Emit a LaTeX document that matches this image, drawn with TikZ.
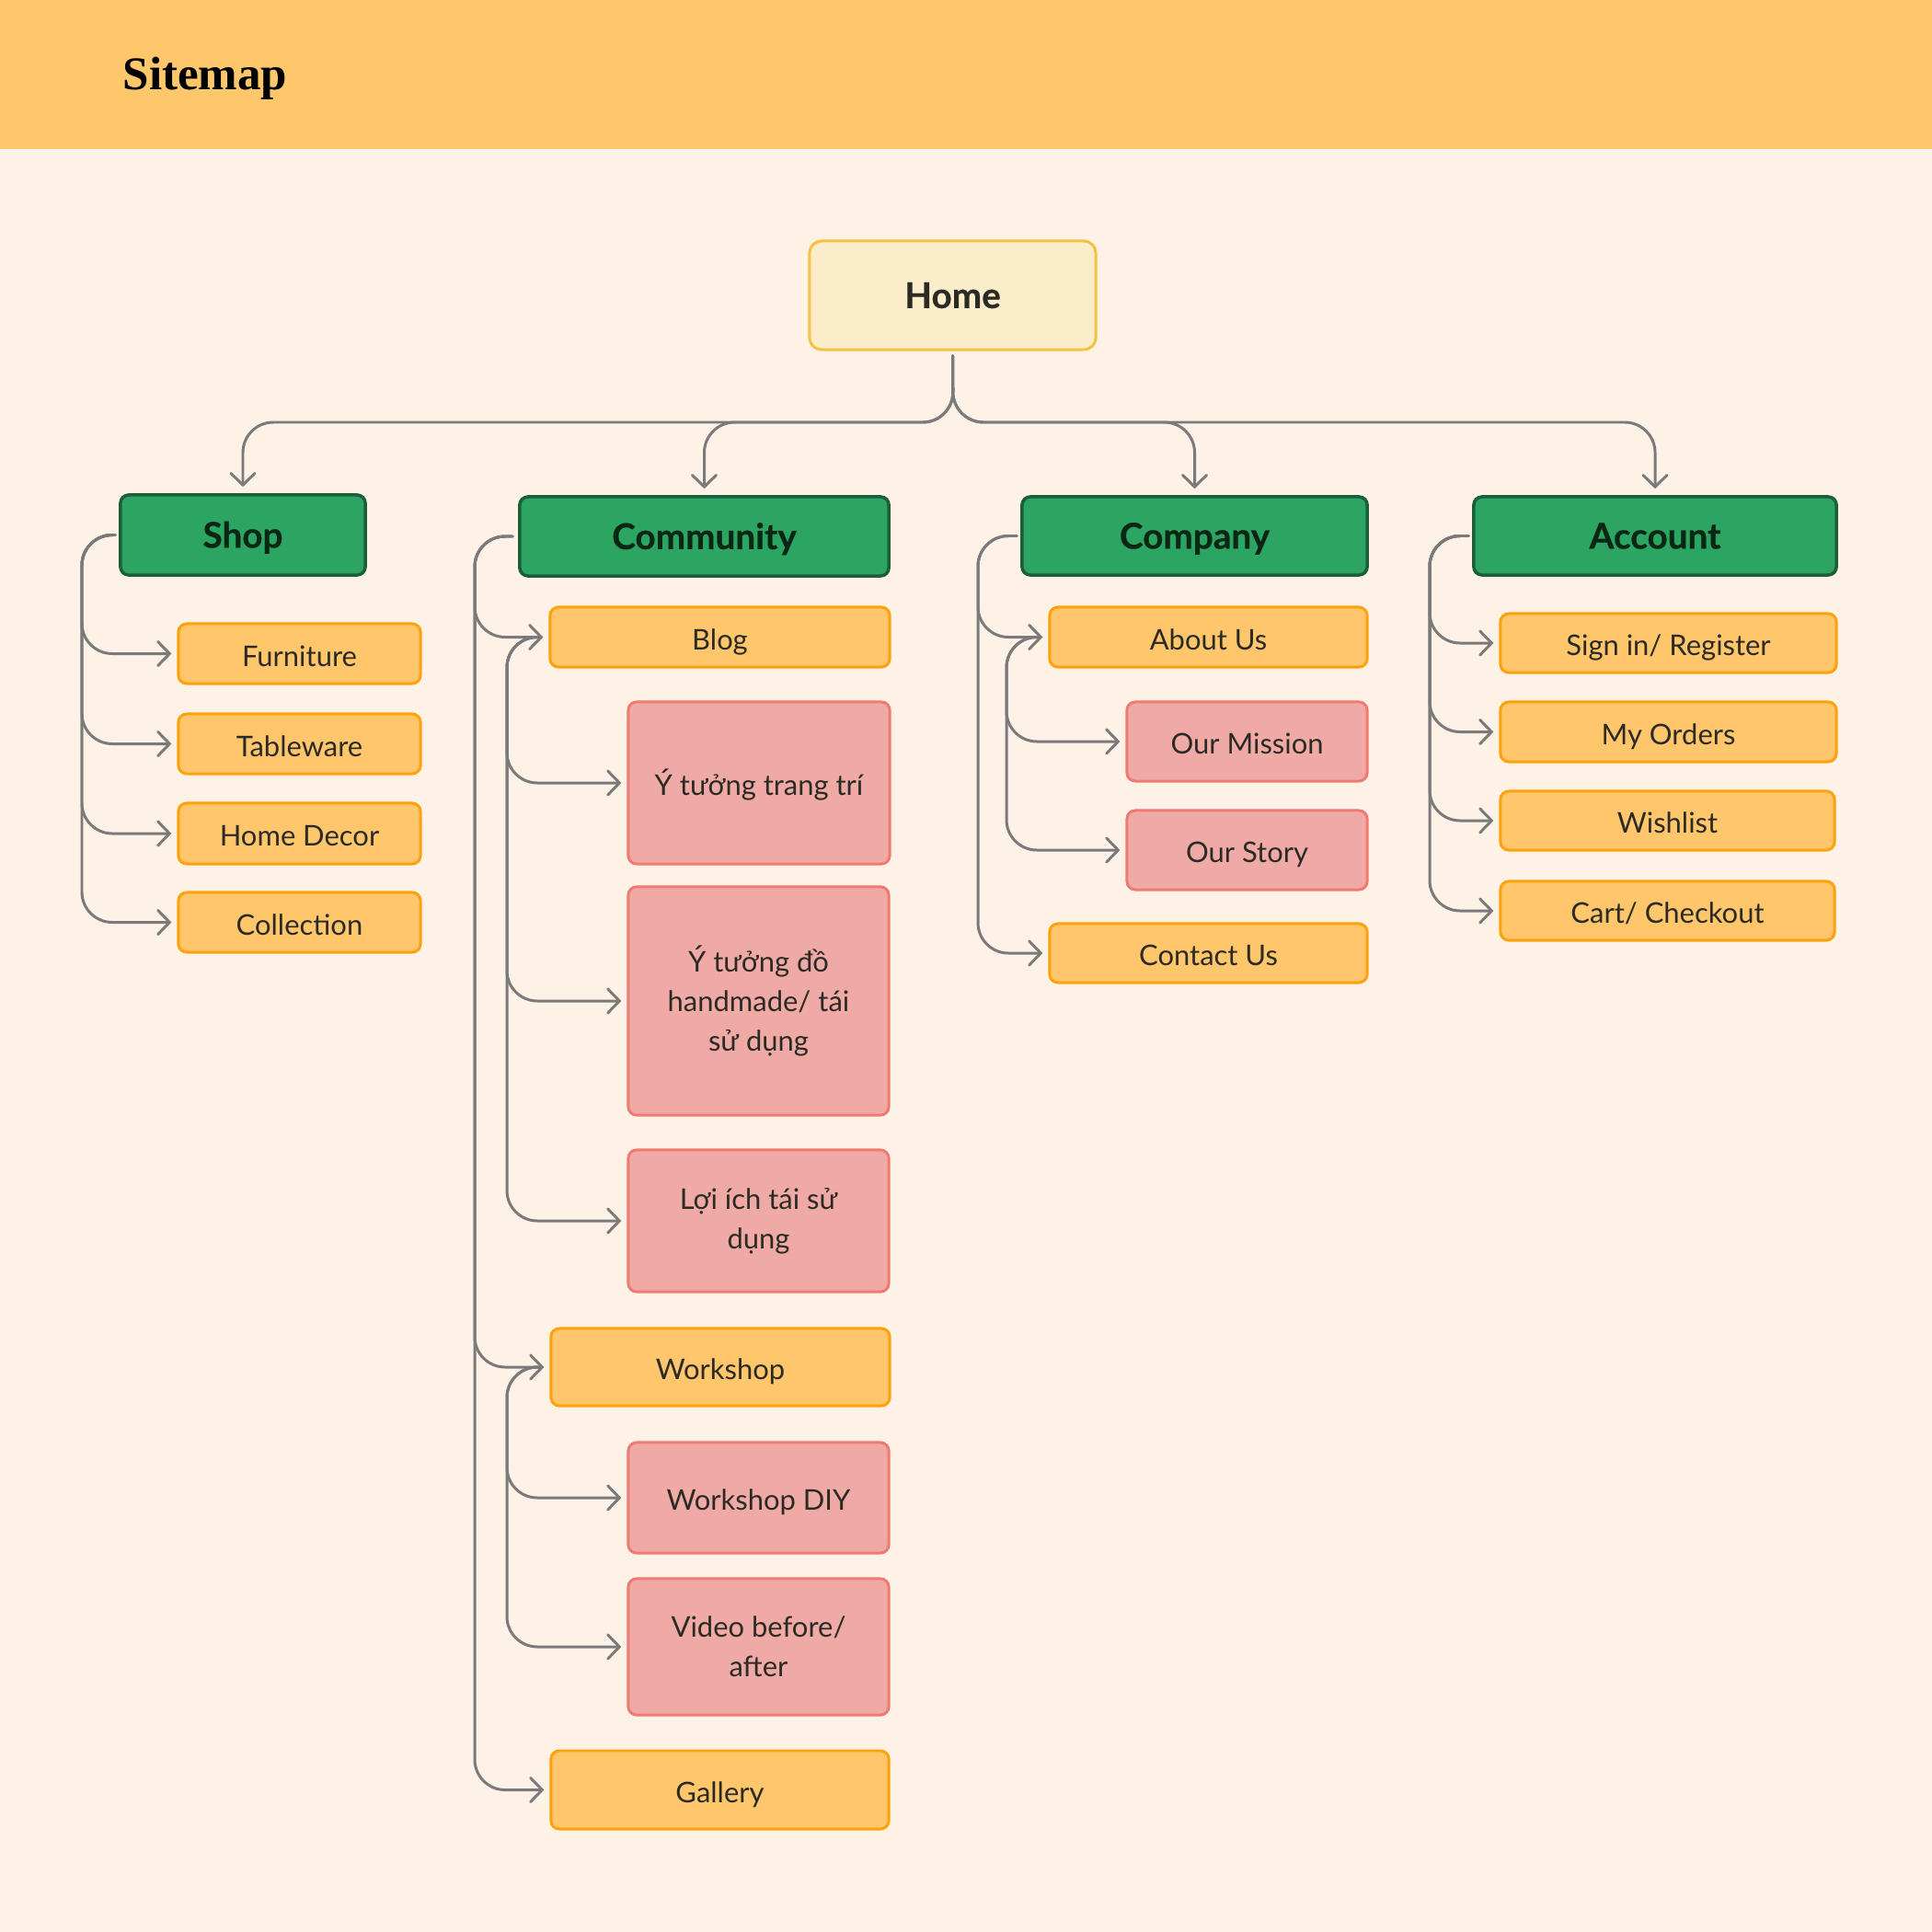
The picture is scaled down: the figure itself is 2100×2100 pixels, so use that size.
\documentclass[tikz,border=0pt]{standalone}
\usepackage{fontspec}
\setmainfont{Lato}
\newfontfamily\heavyfont[FakeBold=0.5]{Lato}
\newfontfamily\titlefont{Liberation Serif}
\usetikzlibrary{arrows.meta}
\definecolor{bgc}{RGB}{254,242,230}
\definecolor{bandc}{RGB}{255,199,108}
\definecolor{homefill}{RGB}{251,237,201}
\definecolor{homedraw}{RGB}{244,194,66}
\definecolor{greenfill}{RGB}{45,165,98}
\definecolor{greendraw}{RGB}{29,94,58}
\definecolor{greentext}{RGB}{10,38,20}
\definecolor{orfill}{RGB}{255,198,107}
\definecolor{ordraw}{RGB}{255,161,10}
\definecolor{pkfill}{RGB}{240,170,166}
\definecolor{pkdraw}{RGB}{238,122,114}
\definecolor{txt}{RGB}{43,42,36}
\definecolor{linec}{RGB}{122,122,122}
\tikzset{
  box/.style={rectangle, rounded corners=0.09cm, line width=0.85pt, inner sep=2pt, align=center, text=txt, font=\fontsize{8.8}{12.2}\selectfont},
  sl/.style={text height=0.98em, text depth=0.19em},
  homebox/.style={box, sl, fill=homefill, draw=homedraw, rounded corners=0.13cm, font=\fontsize{11}{13}\selectfont\heavyfont\bfseries},
  greenbox/.style={box, sl, fill=greenfill, draw=greendraw, line width=1pt, text=greentext, font=\fontsize{11}{13}\selectfont\heavyfont\bfseries},
  orbox/.style={box, fill=orfill, draw=ordraw},
  pkbox/.style={box, fill=pkfill, draw=pkdraw},
  conn/.style={draw=linec, line width=0.85pt, rounded corners=0.33cm, line cap=round, line join=round, -{Straight Barb[length=3.6pt,width=7.4pt,line cap=round]}},
}
\begin{document}
\begin{tikzpicture}[x=0.01cm, y=-0.01cm]
\useasboundingbox (0,0) rectangle (2100,2100);
\fill[bgc] (0,0) rectangle (2100,2100);
\fill[bandc] (0,0) rectangle (2100,162);
\node[anchor=base west, inner sep=0pt, font=\titlefont\bfseries\fontsize{14.5}{16}\selectfont] (title) at (133,98) {Sitemap};

% Home
\node[homebox, minimum width=3.11cm, minimum height=1.18cm] (home) at (1035.5,321) {Home};

% top level
\node[greenbox, minimum width=2.66cm, minimum height=0.87cm] (shop) at (264,581.5) {Shop};
\node[greenbox, minimum width=4.01cm, minimum height=0.86cm] (comm) at (765.5,583) {Community};
\node[greenbox, minimum width=3.75cm, minimum height=0.85cm] (comp) at (1298.5,582.5) {Company};
\node[greenbox, minimum width=3.94cm, minimum height=0.85cm] (acc) at (1799,582.5) {Account};

% Shop children
\node[orbox, sl, minimum width=2.63cm, minimum height=0.65cm] (furn) at (325.5,710.5) {Furniture};
\node[orbox, sl, minimum width=2.63cm, minimum height=0.65cm] (table) at (325.5,808.5) {Tableware};
\node[orbox, sl, minimum width=2.63cm, minimum height=0.66cm] (decor) at (325.5,906) {Home Decor};
\node[orbox, sl, minimum width=2.63cm, minimum height=0.65cm] (coll) at (325.5,1002.5) {Collection};

% Community children
\node[orbox, sl, minimum width=3.69cm, minimum height=0.65cm] (blog) at (782.5,692.5) {Blog};
\node[pkbox, sl, minimum width=2.84cm, minimum height=1.76cm] (ytt) at (825,851) {Ý tưởng trang trí};
\node[pkbox, minimum width=2.83cm, minimum height=2.48cm] (hand) at (824.5,1088) {Ý tưởng đồ\\handmade/ tái\\sử dụng};
\node[pkbox, minimum width=2.83cm, minimum height=1.54cm] (loi) at (824.5,1327) {Lợi ích tái sử\\dụng};
\node[orbox, sl, minimum width=3.68cm, minimum height=0.84cm] (work) at (783,1486) {Workshop};
\node[pkbox, sl, minimum width=2.83cm, minimum height=1.20cm] (diy) at (824.5,1628) {Workshop DIY};
\node[pkbox, minimum width=2.83cm, minimum height=1.48cm] (video) at (824.5,1790) {Video before/\\after};
\node[orbox, sl, minimum width=3.67cm, minimum height=0.85cm] (gal) at (782.5,1945.5) {Gallery};

% Company children
\node[orbox, sl, minimum width=3.45cm, minimum height=0.65cm] (about) at (1313.5,692.5) {About Us};
\node[pkbox, sl, minimum width=2.61cm, minimum height=0.86cm] (miss) at (1355.5,806) {Our Mission};
\node[pkbox, sl, minimum width=2.61cm, minimum height=0.86cm] (story) at (1355.5,924) {Our Story};
\node[orbox, sl, minimum width=3.45cm, minimum height=0.64cm] (contact) at (1313.5,1036) {Contact Us};

% Account children
\node[orbox, sl, minimum width=3.65cm, minimum height=0.64cm] (sign) at (1813.5,699) {Sign in/ Register};
\node[orbox, sl, minimum width=3.65cm, minimum height=0.65cm] (orders) at (1813.5,795.5) {My Orders};
\node[orbox, sl, minimum width=3.63cm, minimum height=0.64cm] (wish) at (1812.5,892) {Wishlist};
\node[orbox, sl, minimum width=3.63cm, minimum height=0.64cm] (cart) at (1812.5,990) {Cart/ Checkout};

% trunk coordinates
\coordinate (split) at (1036,459);
\coordinate (shopT) at (89,0);
\coordinate (commT) at (516,0);
\coordinate (blogT) at (551,0);
\coordinate (compT) at (1063,0);
\coordinate (aboutT) at (1094,0);
\coordinate (accT) at (1554,0);

% Home to sections
\foreach \t in {shop,comm,comp,acc}{
  \draw[conn] ([yshift=-0.05cm]home.south) -- (split) -- (split -| \t.north) -- ([yshift=0.07cm]\t.north);
}

% Shop
\foreach \t in {furn,table,decor,coll}{
  \draw[conn] ([xshift=-0.04cm]shop.west) -- (shop.west -| shopT) -- (\t.west -| shopT) -- ([xshift=-0.06cm]\t.west);
}
% Community
\foreach \t in {blog,work,gal}{
  \draw[conn] ([xshift=-0.06cm]comm.west) -- (comm.west -| commT) -- (\t.west -| commT) -- ([xshift=-0.06cm]\t.west);
}
\foreach \t in {ytt,hand,loi}{
  \draw[conn] ([xshift=-0.08cm]blog.west) -- (blog.west -| blogT) -- (\t.west -| blogT) -- ([xshift=-0.06cm]\t.west);
}
\foreach \t in {diy,video}{
  \draw[conn] ([xshift=-0.08cm]work.west) -- (work.west -| blogT) -- (\t.west -| blogT) -- ([xshift=-0.06cm]\t.west);
}
% Company
\foreach \t in {about,contact}{
  \draw[conn] ([xshift=-0.04cm]comp.west) -- (comp.west -| compT) -- (\t.west -| compT) -- ([xshift=-0.06cm]\t.west);
}
\foreach \t in {miss,story}{
  \draw[conn] ([xshift=-0.08cm]about.west) -- (about.west -| aboutT) -- (\t.west -| aboutT) -- ([xshift=-0.06cm]\t.west);
}
% Account
\foreach \t in {sign,orders,wish,cart}{
  \draw[conn] ([xshift=-0.04cm]acc.west) -- (acc.west -| accT) -- (\t.west -| accT) -- ([xshift=-0.06cm]\t.west);
}
\end{tikzpicture}
\end{document}
